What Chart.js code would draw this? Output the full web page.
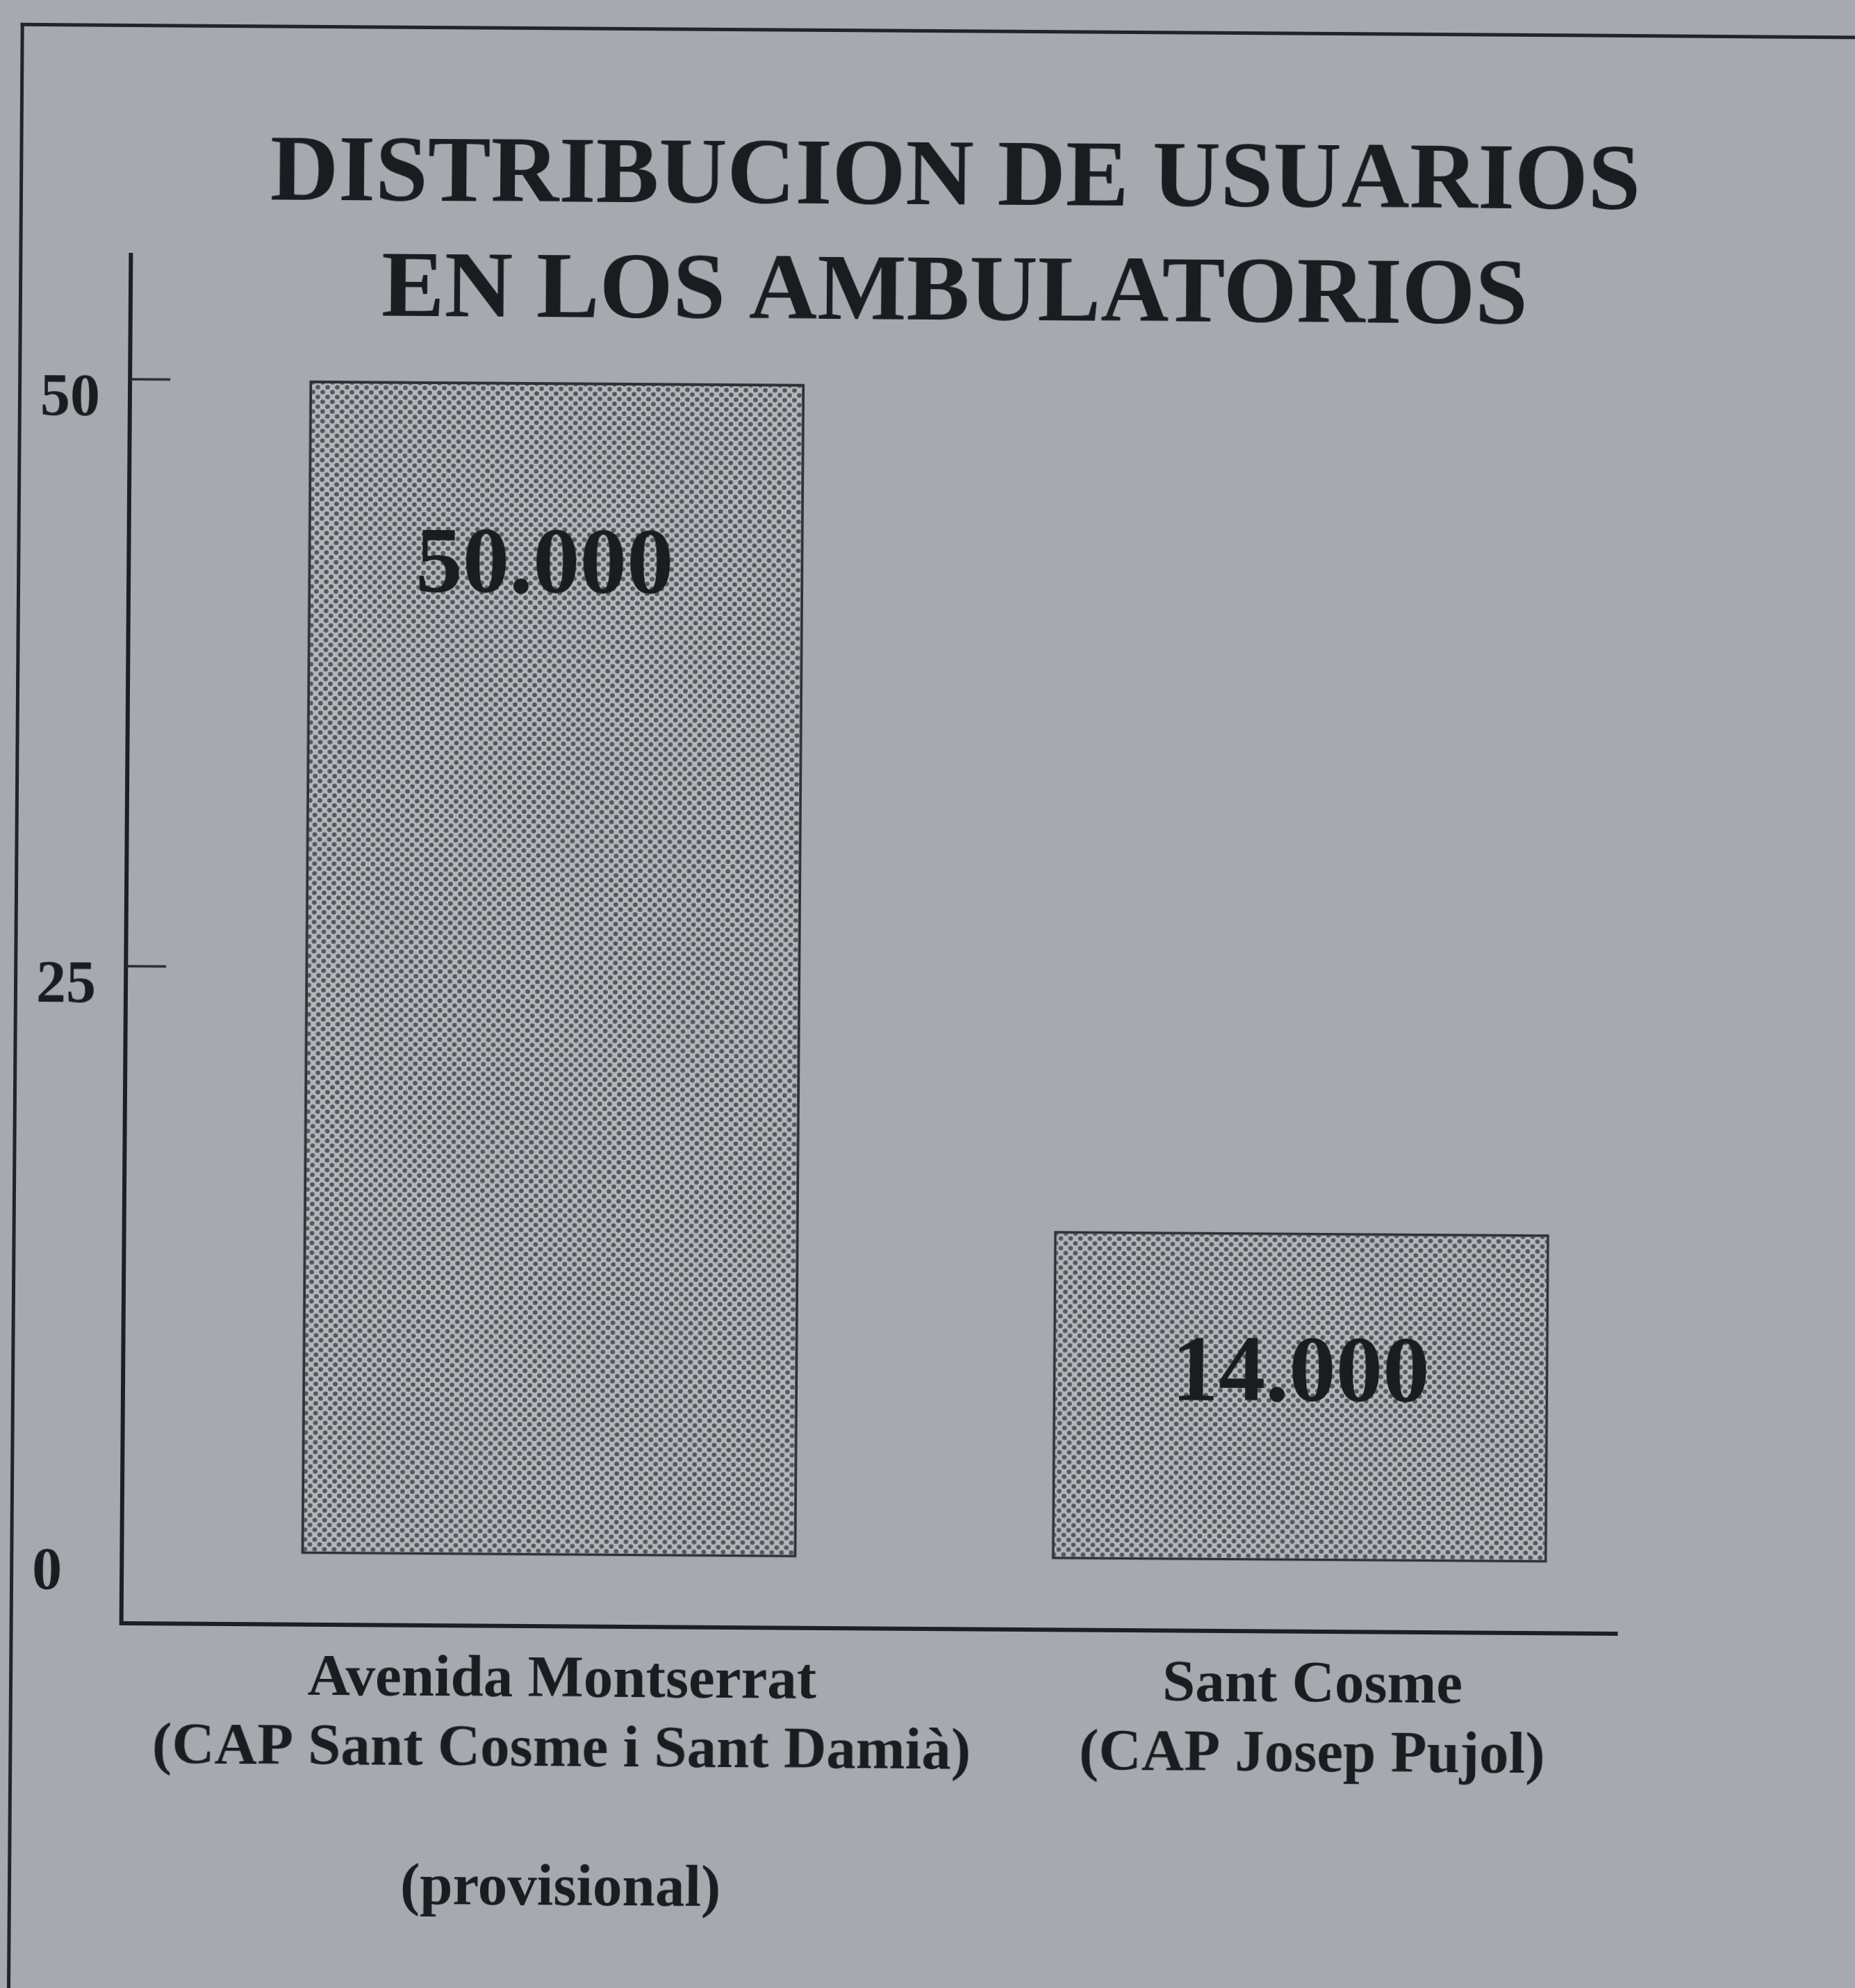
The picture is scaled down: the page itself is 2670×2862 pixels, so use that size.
<!DOCTYPE html>
<html lang="es">
<head>
<meta charset="UTF-8">
<title>Distribucion de usuarios en los ambulatorios</title>
<script src="https://cdn.jsdelivr.net/npm/chart.js"></script>
<style>
    * { box-sizing: border-box; margin: 0; padding: 0; }

    html, body {
        width: 2670px;
        height: 2862px;
        overflow: hidden;
        background: #a6aab0;
    }

    /* the scanned sheet sits a little crooked */
    #page {
        position: absolute;
        left: 0;
        top: 0;
        width: 2670px;
        height: 2862px;
        transform-origin: 1335px 1431px;
        transform: rotate(0.4deg);
    }

    #frame {
        position: absolute;
        left: 20px;
        top: 42px;
        width: 3000px;
        height: 3200px;
        border-left: 5px solid #222428;
        border-top: 5px solid #222428;
    }

    #chart {
        position: absolute;
        left: 0;
        top: 0;
    }
</style>
</head>
<body>
<div id="page">
    <div id="frame"></div>
    <canvas id="chart" width="2690" height="2862"></canvas>
</div>
<script>
    const titleLines = ['DISTRIBUCION DE USUARIOS', 'EN LOS AMBULATORIOS'];
    const categories = [
        ['Avenida Montserrat', '(CAP Sant Cosme i Sant Damià)', '', '(provisional)'],
        ['Sant Cosme', '(CAP Josep Pujol)']
    ];
    const usuarios = [50000, 14000];
    const yTicks = [0, 25000, 50000];

    const ink = '#1b1c1f';
    const serif = "'Liberation Serif', 'Times New Roman', serif";
    // where the number sits inside each bar
    const labelDx = [-16, 0];
    const labelDy = [268, 207];

    function fmt(v) {
        return String(v).replace(/\B(?=(\d{3})+(?!\d))/g, '.');
    }

    // dotted screen used for the bars
    function dotPattern(ctx) {
        let tile = document.createElement('canvas');
        tile.width = 14;
        tile.height = 14;
        let t = tile.getContext('2d');
        t.fillStyle = '#b3b6ba';
        t.fillRect(0, 0, 14, 14);
        t.fillStyle = '#53565b';
        [[3.5, 3.5], [10.5, 10.5]].forEach(p => {
            t.beginPath();
            t.arc(p[0], p[1], 3.3, 0, Math.PI * 2);
            t.fill();
        });
        return ctx.createPattern(tile, 'repeat');
    }

    // short tick marks pointing into the plot
    const innerTicks = {
        id: 'innerTicks',
        afterDraw(chart) {
            let ctx = chart.ctx;
            let y = chart.scales.y;
            let left = chart.chartArea.left;
            ctx.save();
            ctx.strokeStyle = '#2a2c30';
            ctx.lineWidth = 3.5;
            yTicks.filter(v => v > 0).forEach(v => {
                let py = y.getPixelForValue(v);
                ctx.beginPath();
                ctx.moveTo(left, py);
                ctx.lineTo(left + 58, py);
                ctx.stroke();
            });
            ctx.restore();
        }
    };

    const barValues = {
        id: 'barValues',
        afterDatasetsDraw(chart) {
            let ctx = chart.ctx;
            let meta = chart.getDatasetMeta(0);
            ctx.save();
            ctx.fillStyle = ink;
            ctx.font = 'bold 135px ' + serif;
            ctx.textAlign = 'center';
            ctx.textBaseline = 'middle';
            meta.data.forEach((bar, i) => {
                ctx.fillText(fmt(usuarios[i]), bar.x + labelDx[i], bar.y + labelDy[i]);
            });
            ctx.restore();
        }
    };

    let canvas = document.getElementById('chart');
    let ctx = canvas.getContext('2d');

    new Chart(ctx, {
        type: 'bar',
        data: {
            datasets: [{
                data: usuarios.map((v, i) => ({ x: i, y: v })),
                backgroundColor: dotPattern(ctx),
                borderColor: '#2e3035',
                borderWidth: 4,
                borderSkipped: false,
                barPercentage: 0.66,
                categoryPercentage: 1
            }]
        },
        options: {
            responsive: false,
            animation: false,
            devicePixelRatio: 1,
            layout: {
                padding: { left: 52, right: 8, top: 0, bottom: 0 }
            },
            plugins: {
                legend: { display: false },
                tooltip: { enabled: false },
                title: {
                    display: true,
                    text: titleLines,
                    color: ink,
                    font: { family: serif, size: 136, weight: 'bold', lineHeight: 166 / 136 },
                    padding: { top: 176, bottom: -133 }
                }
            },
            scales: {
                x: {
                    type: 'linear',
                    offset: false,
                    bounds: 'data',
                    min: -0.569,
                    max: 1.424,
                    afterBuildTicks: s => { s.ticks = categories.map((c, i) => ({ value: i })); },
                    afterFit: s => { s.height = 517; },
                    grid: { display: true, offset: false, drawOnChartArea: false, drawTicks: false },
                    border: { display: true, width: 6, color: '#1e1f22' },
                    ticks: {
                        autoSkip: false,
                        maxRotation: 0,
                        minRotation: 0,
                        padding: 29,
                        labelOffset: 20,
                        color: ink,
                        font: { family: serif, size: 85, weight: 'bold', lineHeight: 100 / 85 },
                        callback: v => categories[v]
                    }
                },
                y: {
                    type: 'linear',
                    position: 'left',
                    bounds: 'data',
                    min: -2990,
                    max: 55300,
                    afterBuildTicks: s => { s.ticks = yTicks.map(v => ({ value: v })); },
                    afterFit: s => { s.width = 129; },
                    grid: { display: true, drawOnChartArea: false, drawTicks: false },
                    border: { display: true, width: 6, color: '#1e1f22' },
                    ticks: {
                        crossAlign: 'far',
                        labelOffset: 30,
                        color: ink,
                        font: { family: serif, size: 86, weight: 'bold' },
                        callback: v => String(v / 1000)
                    }
                },
                // empty strip on the right so the title centres like the sheet
                side: {
                    type: 'linear',
                    position: 'right',
                    grid: { display: false, drawTicks: false },
                    border: { display: false },
                    ticks: { display: false },
                    afterFit: s => { s.width = 348; }
                }
            }
        },
        plugins: [innerTicks, barValues]
    });
</script>
</body>
</html>
